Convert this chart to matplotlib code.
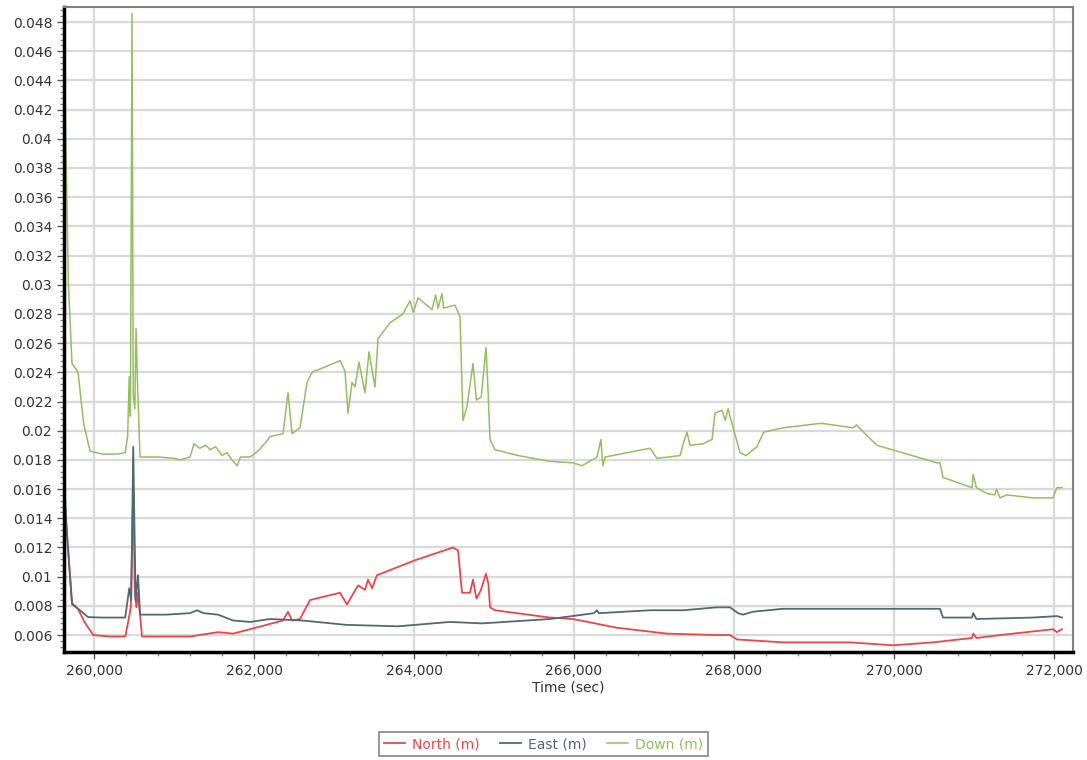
import matplotlib.pyplot as plt
from matplotlib.ticker import MultipleLocator, FuncFormatter

# Down (m) series: time (sec) and value
down_t = [259625, 259640, 259680, 259725, 259800, 259870, 259950, 260100, 260300, 260390,
          260420, 260440, 260455, 260475, 260490, 260510, 260525, 260545, 260575, 260800,
          261010, 261080, 261200, 261250, 261320, 261400, 261450, 261520, 261600, 261660,
          261725, 261790, 261830, 261950, 262050, 262162, 262200, 262362, 262425, 262475,
          262575, 262662, 262725, 262900, 263075, 263137, 263175, 263225, 263262, 263312,
          263387, 263437, 263512, 263550, 263700, 263862, 263950, 263990, 264050, 264225,
          264270, 264300, 264350, 264370, 264512, 264575, 264612, 264660, 264737, 264780,
          264840, 264900, 264925, 264950, 265012, 265300, 265700, 265987, 266100, 266287,
          266337, 266360, 266390, 266950, 267037, 267325, 267370, 267412, 267450, 267612,
          267725, 267762, 267850, 267890, 267925, 267990, 268075, 268150, 268287, 268370,
          268612, 269075, 269100, 269487, 269530, 269637, 269787, 270537, 270575, 270612,
          270975, 270990, 271030, 271162, 271260, 271280, 271325, 271410, 271737, 271987,
          272037, 272100]
down_v = [0.0490, 0.0420, 0.0300, 0.0246, 0.0240, 0.0205, 0.0186, 0.0184, 0.0184, 0.0185,
          0.0196, 0.0237, 0.0210, 0.0486, 0.0225, 0.0215, 0.0270, 0.0230, 0.0182, 0.0182,
          0.0181, 0.0180, 0.0182, 0.0191, 0.0188, 0.0190, 0.0187, 0.0189, 0.0183, 0.0185,
          0.0180, 0.0176, 0.0182, 0.0182, 0.0186, 0.0193, 0.0196, 0.0198, 0.0226, 0.0198,
          0.0202, 0.0233, 0.0240, 0.0244, 0.0248, 0.0241, 0.0212, 0.0233, 0.0230, 0.0247,
          0.0226, 0.0254, 0.0230, 0.0263, 0.0274, 0.0280, 0.0289, 0.0281, 0.0291, 0.0283,
          0.0293, 0.0284, 0.0294, 0.0284, 0.0286, 0.0278, 0.0207, 0.0216, 0.0246, 0.0221,
          0.0223, 0.0257, 0.0228, 0.0194, 0.0187, 0.0183, 0.0179, 0.0178, 0.0176, 0.0182,
          0.0194, 0.0176, 0.0182, 0.0188, 0.0181, 0.0183, 0.0192, 0.0199, 0.0190, 0.0191,
          0.0194, 0.0212, 0.0214, 0.0207, 0.0215, 0.0202, 0.0185, 0.0183, 0.0189, 0.0199,
          0.0202, 0.0205, 0.0205, 0.0202, 0.0204, 0.0198, 0.0190, 0.0178, 0.0178, 0.0168,
          0.0161, 0.0170, 0.0161, 0.0157, 0.0156, 0.0160, 0.0154, 0.0156, 0.0154, 0.0154,
          0.0161, 0.0161]

# East (m) series
east_t = [259625, 259660, 259725, 259825, 259925, 260100, 260390, 260440, 260465, 260490,
          260520, 260550, 260575, 260900, 261200, 261287, 261370, 261550, 261737, 261950,
          262200, 262600, 263150, 263800, 264450, 264850, 265700, 266250, 266287, 266310,
          266950, 267370, 267780, 267950, 268050, 268112, 268237, 268612, 269637, 270575,
          270612, 270975, 270990, 271030, 271737, 272037, 272100]
east_v = [0.0170, 0.0130, 0.0081, 0.0077, 0.00723, 0.0072, 0.0072, 0.0092, 0.0084, 0.0189,
          0.0084, 0.0101, 0.0074, 0.0074, 0.0075, 0.0077, 0.0075, 0.0074, 0.0070, 0.0069,
          0.0071, 0.0070, 0.0067, 0.0066, 0.0069, 0.0068, 0.0071, 0.0075, 0.0077, 0.0075,
          0.0077, 0.0077, 0.0079, 0.0079, 0.0075, 0.0074, 0.0076, 0.0078, 0.0078, 0.0078,
          0.0072, 0.0072, 0.0075, 0.0071, 0.0072, 0.0073, 0.0072]

# North (m) series
north_t = [259625, 259660, 259725, 259800, 259880, 259990, 260200, 260390, 260430, 260460,
           260490, 260510, 260530, 260550, 260600, 260900, 261200, 261550, 261737, 261950,
           262362, 262425, 262475, 262575, 262700, 263075, 263162, 263300, 263387, 263425,
           263475, 263537, 264000, 264487, 264550, 264600, 264700, 264737, 264780, 264830,
           264900, 264930, 264950, 265012, 265700, 265987, 266537, 267162, 267787, 267950,
           268037, 268612, 269450, 269987, 270487, 270975, 270990, 271030, 271325, 271987,
           272037, 272100]
north_v = [0.01525, 0.0132, 0.0082, 0.0078, 0.0069, 0.0060, 0.0059, 0.0059, 0.0070, 0.0079,
           0.0161, 0.0089, 0.0079, 0.0089, 0.0059, 0.0059, 0.0059, 0.0062, 0.0061, 0.0064,
           0.0070, 0.0076, 0.0070, 0.0071, 0.0084, 0.0089, 0.0081, 0.0094, 0.0091, 0.0098,
           0.0092, 0.0101, 0.0111, 0.0120, 0.0118, 0.0089, 0.0089, 0.0098, 0.0085, 0.0090,
           0.0102, 0.0095, 0.0079, 0.0077, 0.0072, 0.0071, 0.0065, 0.0061, 0.0060, 0.0060,
           0.0057, 0.0055, 0.0055, 0.0053, 0.0055, 0.0058, 0.0061, 0.0058, 0.0060, 0.0064,
           0.0062, 0.0064]

north_color = "#e8474a"
east_color = "#4f6a72"
down_color = "#93bf60"

fig = plt.figure(figsize=(10.87, 7.6), dpi=100)
ax = fig.add_axes([0.0589, 0.1421, 0.9282, 0.8493])

ax.plot(north_t, north_v, color=north_color, lw=1.3, label="North (m)")
ax.plot(east_t, east_v, color=east_color, lw=1.3, label="East (m)")
ax.plot(down_t, down_v, color=down_color, lw=1.1, label="Down (m)")

ax.set_xlim(259625, 272237)
ax.set_ylim(0.00484, 0.04906)

ax.xaxis.set_major_locator(MultipleLocator(2000))
ax.xaxis.set_minor_locator(MultipleLocator(400))
ax.yaxis.set_major_locator(MultipleLocator(0.002))
ax.yaxis.set_minor_locator(MultipleLocator(0.0004))
ax.xaxis.set_major_formatter(FuncFormatter(lambda v, p: f"{int(round(v)):,}"))
ax.yaxis.set_major_formatter(FuncFormatter(lambda v, p: f"{v:.3f}".rstrip("0").rstrip(".")))

ax.grid(True, which="major", color="#d9d9d9", lw=1.6)
ax.set_axisbelow(True)

ax.tick_params(axis="both", which="major", labelsize=10, labelcolor="#333333",
               length=5, width=1, color="#555555")
ax.tick_params(axis="both", which="minor", length=3, width=1, color="#888888")

for side in ["left", "bottom"]:
    ax.spines[side].set_color("black")
    ax.spines[side].set_linewidth(2.5)
for side in ["top", "right"]:
    ax.spines[side].set_color("#808080")
    ax.spines[side].set_linewidth(1.5)

ax.set_xlabel("Time (sec)", fontsize=10, color="#333333", labelpad=2)

leg = fig.legend(loc="center", bbox_to_anchor=(0.5, 0.021), ncol=3, fontsize=10,
                 frameon=True, fancybox=False, edgecolor="#666666", handlelength=1.5,
                 handletextpad=0.5, columnspacing=1.5, borderpad=0.35)
leg.get_frame().set_linewidth(1.2)
for txt, c in zip(leg.get_texts(), [north_color, east_color, down_color]):
    txt.set_color(c)

fig.savefig("out.png", dpi=100)
